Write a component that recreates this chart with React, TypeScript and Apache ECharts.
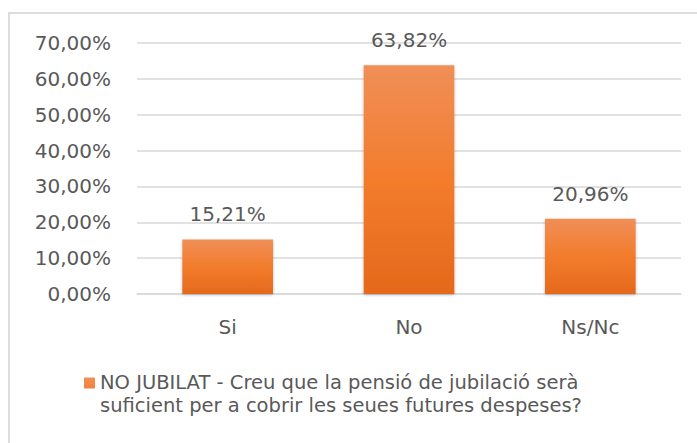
import React, { useEffect, useRef } from "react";
import * as echarts from "echarts";

const categories = ["Si", "No", "Ns/Nc"];
const values = [15.21, 63.82, 20.96];
const seriesName = "NO JUBILAT - Creu que la pensió de jubilació serà\nsuficient per a cobrir les seues futures despeses?";
const yTicks = { min: 0, max: 70, interval: 10 };

const FONT = "DejaVu Sans";
const TEXT = "#595959";

const fmt = (v: number) => v.toFixed(2).replace(".", ",") + "%";

export default function App() {
  const ref = useRef<HTMLDivElement>(null);
  useEffect(() => {
    if (!ref.current) return;
    const chart = echarts.init(ref.current, undefined, { renderer: "svg" });
    chart.setOption({
      animation: false,
      backgroundColor: "#ffffff",
      textStyle: { fontFamily: FONT },
      graphic: [
        {
          type: "rect",
          shape: { x: 9, y: 13, width: 720, height: 460 },
          style: { fill: "none", stroke: "#dcdcdc", lineWidth: 2 },
          silent: true,
        },
      ],
      grid: { left: 137, right: 16, top: 43, bottom: 149, containLabel: false },
      xAxis: {
        type: "category",
        data: categories,
        axisLine: { show: true, lineStyle: { color: "#d9d9d9", width: 1.5 } },
        axisTick: { show: false },
        axisLabel: { color: TEXT, fontSize: 20, fontFamily: FONT, margin: 23 },
      },
      yAxis: {
        type: "value",
        min: yTicks.min,
        max: yTicks.max,
        interval: yTicks.interval,
        axisLine: { show: false },
        axisTick: { show: false },
        splitLine: { lineStyle: { color: "#d9d9d9", width: 1.5 } },
        axisLabel: {
          color: TEXT,
          fontSize: 20,
          fontFamily: FONT,
          margin: 26,
          formatter: (v: number) => fmt(v),
        },
      },
      legend: {
        show: true,
        left: 79,
        top: 366,
        icon: "path://M0,0h11v11H0zM0,33h0.01",
        itemWidth: 11,
        itemHeight: 33,
        data: [seriesName],
        textStyle: {
          color: TEXT,
          fontSize: 19.5,
          fontFamily: FONT,
          lineHeight: 23,
        },
      },
      series: [
        {
          name: seriesName,
          type: "bar",
          data: values,
          barWidth: "50%",
          itemStyle: {
            color: new echarts.graphic.LinearGradient(0, 0, 0, 1, [
              { offset: 0, color: "#f08f58" },
              { offset: 0.5, color: "#f27c2c" },
              { offset: 1, color: "#e5691c" },
            ]),
            shadowBlur: 3,
            shadowColor: "rgba(0,0,0,0.25)",
            shadowOffsetY: 1,
          },
          label: {
            show: true,
            position: "top",
            distance: 15,
            color: TEXT,
            fontSize: 20,
            fontFamily: FONT,
            formatter: (p: any) => fmt(p.value),
          },
        },
      ],
    });
    return () => chart.dispose();
  }, []);
  return (
    <div
      ref={ref}
      style={{ position: "fixed", left: 0, top: 0, width: 697, height: 443 }}
    />
  );
}
